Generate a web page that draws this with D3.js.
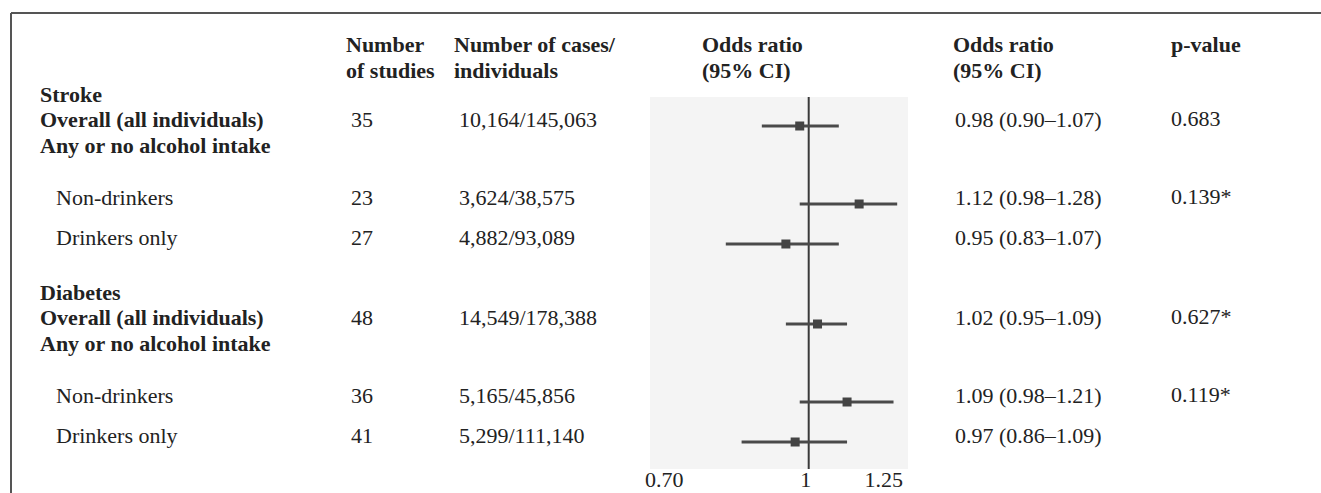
<!DOCTYPE html>
<html>
<head>
<meta charset="utf-8">
<script src="https://cdn.jsdelivr.net/npm/d3@7"></script>
<style>
  html, body { margin: 0; padding: 0; background: #fff; }
  svg { display: block; }
  text { font-family: "Liberation Serif", "Times New Roman", serif; font-size: 22px; fill: #222; }
  .b { font-weight: bold; }
</style>
</head>
<body>
<svg id="chart" width="1321" height="493"></svg>
<script>
// ---- data ----
const rowLabels = ["Stroke", "Overall (all individuals)", "Any or no alcohol intake", "Non-drinkers", "Drinkers only",
                   "Diabetes", "Overall (all individuals)", "Any or no alcohol intake", "Non-drinkers", "Drinkers only"];
const rowBold = [true, true, true, false, false, true, true, true, false, false];
const estimateRows = [1, 3, 4, 6, 8, 9];
const studies = ["35", "23", "27", "48", "36", "41"];
const cases = ["10,164/145,063", "3,624/38,575", "4,882/93,089", "14,549/178,388", "5,165/45,856", "5,299/111,140"];
const orEst = [0.98, 1.12, 0.95, 1.02, 1.09, 0.97];
const ciLow = [0.90, 0.98, 0.83, 0.95, 0.98, 0.86];
const ciHigh = [1.07, 1.22, 1.07, 1.09, 1.21, 1.09];   // as drawn in the plot
const orText = ["0.98 (0.90\u20131.07)", "1.12 (0.98\u20131.28)", "0.95 (0.83\u20131.07)",
                "1.02 (0.95\u20131.09)", "1.09 (0.98\u20131.21)", "0.97 (0.86\u20131.09)"];
const pText = ["0.683", "0.139*", "", "0.627*", "0.119*", ""];
const tickValues = [0.70, 1, 1.25];
const tickLabels = ["0.70", "1", "1.25"];
const headers = [
  { lines: ["Number", "of studies"], col: "studies" },
  { lines: ["Number of cases/", "individuals"], col: "cases" },
  { lines: ["Odds ratio", "(95% CI)"], col: "plot" },
  { lines: ["Odds ratio", "(95% CI)"], col: "or" },
  { lines: ["p-value"], col: "p" }
];

// ---- layout ----
const svg = d3.select("#chart");
const W = 1321, H = 493;
const colX = { label: 40, labelIndent: 56, studiesHead: 346, studies: 351, casesHead: 454, cases: 459,
               plot: 702, orHead: 953, or: 955, p: 1171 };
const headX = { studies: colX.studiesHead, cases: colX.casesHead, plot: colX.plot, or: colX.orHead, p: colX.p };
const groupStart = [101.5, 299.5];
const lineOffsets = [0, 25.5, 51, 103.5, 143.5];
const rowY = i => groupStart[Math.floor(i / 5)] + lineOffsets[i % 5];

const panel = { x0: 650, x1: 908, y0: 97, y1: 469 };
const x = d3.scaleLog().domain([tickValues[0], tickValues[tickValues.length - 1]]).range([panel.x0, panel.x1]);

// frame
svg.append("line").attr("x1", 11).attr("x2", W).attr("y1", 13).attr("y2", 13)
  .attr("stroke", "#555").attr("stroke-width", 2);
svg.append("line").attr("x1", 11).attr("x2", 11).attr("y1", 13).attr("y2", H)
  .attr("stroke", "#555").attr("stroke-width", 2);

// headers
headers.forEach(h => {
  h.lines.forEach((t, k) => {
    svg.append("text").attr("class", "b")
      .attr("x", headX[h.col]).attr("y", 52 + k * 25.5).text(t);
  });
});

// left labels
svg.selectAll("text.row").data(rowLabels).enter().append("text")
  .attr("class", (d, i) => "row" + (rowBold[i] ? " b" : ""))
  .attr("x", (d, i) => rowBold[i] ? colX.label : colX.labelIndent)
  .attr("y", (d, i) => rowY(i))
  .text(d => d);

// numeric columns
const est = estimateRows.map((r, j) => ({ r, j }));
svg.selectAll("text.st").data(est).enter().append("text").attr("class", "st")
  .attr("x", colX.studies).attr("y", d => rowY(d.r)).text(d => studies[d.j]);
svg.selectAll("text.cs").data(est).enter().append("text").attr("class", "cs")
  .attr("x", colX.cases).attr("y", d => rowY(d.r)).text(d => cases[d.j]);
svg.selectAll("text.ort").data(est).enter().append("text").attr("class", "ort")
  .attr("x", colX.or).attr("y", d => rowY(d.r)).text(d => orText[d.j]);
svg.selectAll("text.pv").data(est.filter(d => pText[d.j] !== "")).enter().append("text").attr("class", "pv")
  .attr("x", colX.p).attr("y", d => rowY(d.r) - 1).text(d => pText[d.j]);

// plot panel
svg.append("rect").attr("x", panel.x0).attr("y", panel.y0)
  .attr("width", panel.x1 - panel.x0).attr("height", panel.y1 - panel.y0).attr("fill", "#f4f4f4");
svg.append("line").attr("x1", x(1)).attr("x2", x(1)).attr("y1", panel.y0).attr("y2", panel.y1)
  .attr("stroke", "#3a3a3a").attr("stroke-width", 2);

const g = svg.append("g");
g.selectAll("line.ci").data(est).enter().append("line").attr("class", "ci")
  .attr("x1", d => x(ciLow[d.j])).attr("x2", d => x(ciHigh[d.j]))
  .attr("y1", d => rowY(d.r) - 1).attr("y2", d => rowY(d.r) - 1)
  .attr("stroke", "#4a4a4a").attr("stroke-width", 3);
const sq = 9;
g.selectAll("rect.pt").data(est).enter().append("rect").attr("class", "pt")
  .attr("x", d => x(orEst[d.j]) - sq / 2).attr("y", d => rowY(d.r) - 1 - sq / 2)
  .attr("width", sq).attr("height", sq).attr("fill", "#444");

// axis tick labels
const anchors = tickValues.map((v, i) => i === 0 ? "start" : (i === tickValues.length - 1 ? "end" : "middle"));
svg.selectAll("text.tick").data(tickValues).enter().append("text").attr("class", "tick")
  .attr("x", (d, i) => x(d) + (i === 0 ? -5 : (i === tickValues.length - 1 ? -5 : -3)))
  .attr("y", 487)
  .attr("text-anchor", (d, i) => anchors[i])
  .text((d, i) => tickLabels[i]);
</script>
</body>
</html>
